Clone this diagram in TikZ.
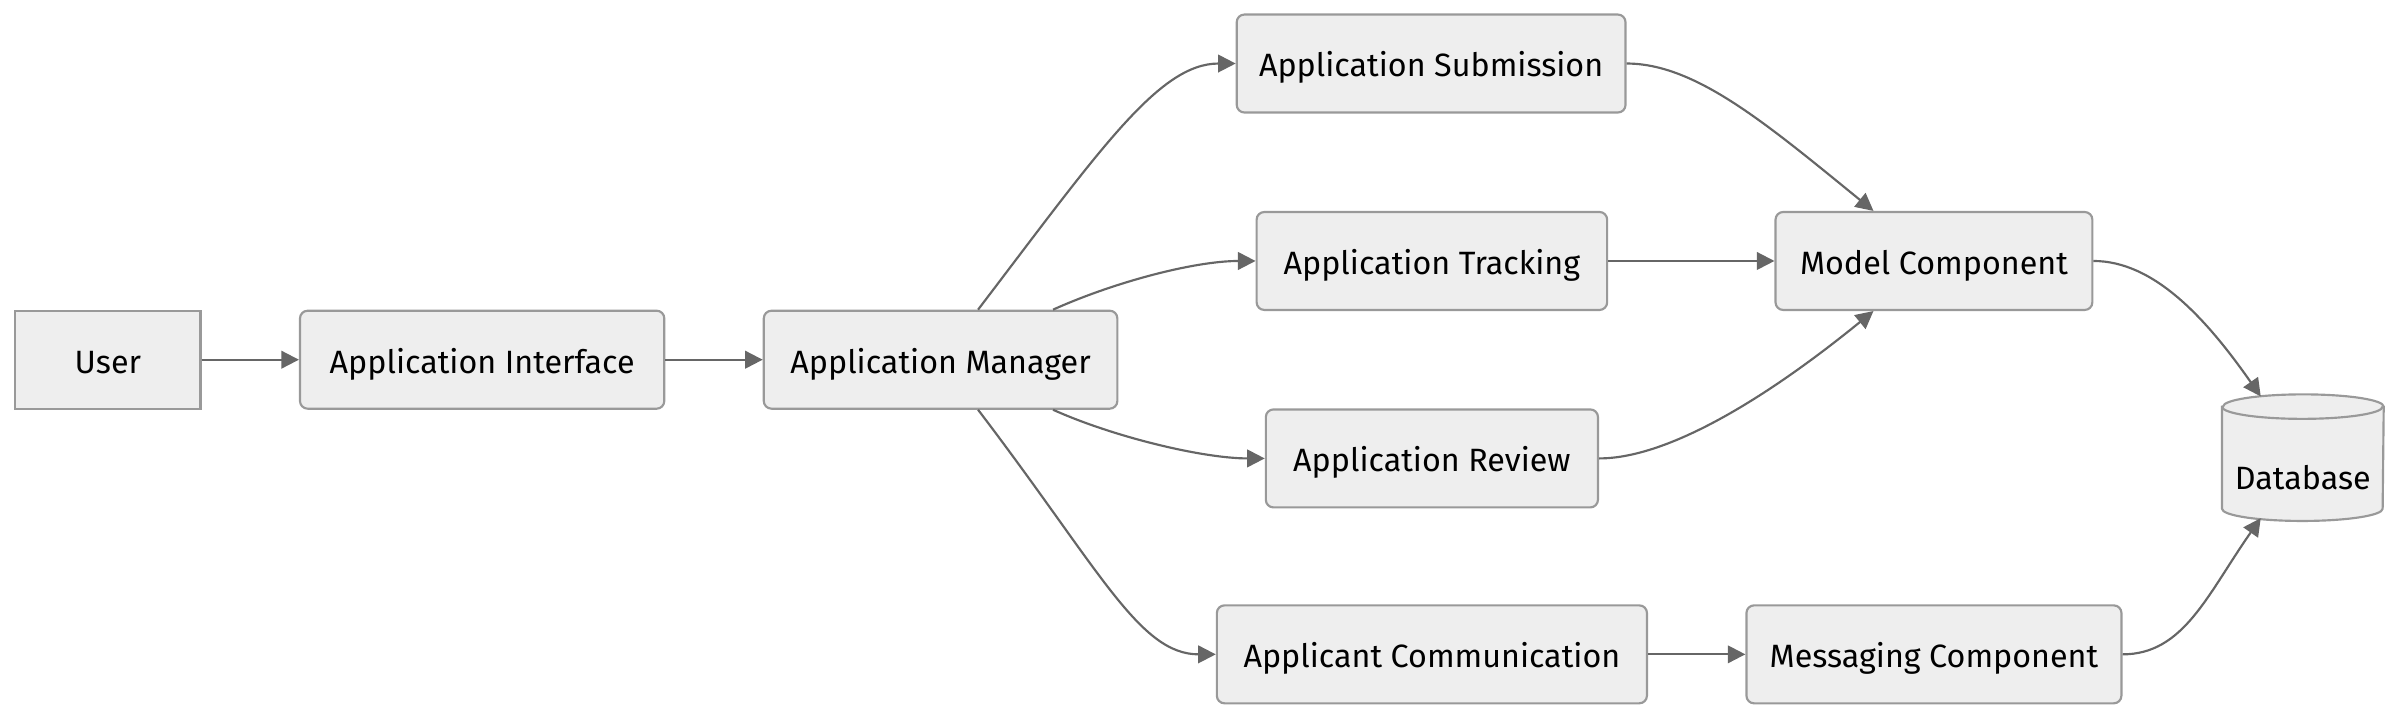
\documentclass[tikz,border=0pt]{standalone}
\usepackage{fontspec}
\setmainfont{Fira Sans}
\usetikzlibrary{arrows.meta}

\definecolor{boxfill}{HTML}{EEEEEE}
\definecolor{boxline}{HTML}{999999}
\definecolor{flowline}{HTML}{666666}

\begin{document}
\begin{tikzpicture}[x=0.2mm, y=-0.2mm, >={Triangle[length=2.3mm, width=2.3mm]},
    every label text/.style={font=\fontsize{12}{14}\selectfont, text height=3.8mm, text depth=0.3mm},
    every box/.style={draw=boxline, fill=boxfill, line width=0.8pt, rounded corners=1mm,
        minimum height=12.8mm, inner sep=0pt, every label text},
    box user/.style={rounded corners=0pt},
    flow/.style={->, draw=flowline, line width=0.8pt}]

\useasboundingbox (0,0) rectangle (1568,470.4);

\foreach \n/\x/\y/\w/\l in {user/70.5/235/24.2/User,
        ui/315/235/47.6/Application Interface,
        mgr/614.5/235/46.2/Application Manager,
        sub/935/41.5/50.8/Application Submission,
        trk/935.5/170.5/45.8/Application Tracking,
        rev/935.5/299.5/43.4/Application Review,
        com/935.5/427.5/56.2/Applicant Communication,
        mdl/1263.5/170.5/41.4/Model Component,
        msg/1263.5/427.5/49.0/Messaging Component}
    \node [every box/.try, box \n/.try, minimum width=\w mm] (\n) at (\x,\y) {\l};

\node [minimum width=21mm, minimum height=16.4mm, inner sep=0pt] (db) at (1504.5,299) {};
\path [draw=boxline, fill=boxfill, line width=0.8pt]
    ([yshift=-1.6mm]db.north west) -- ([yshift=1.6mm]db.south west)
    arc [start angle=180, end angle=360, x radius=10.5mm, y radius=1.6mm]
    -- ([yshift=-1.6mm]db.north east)
    arc [start angle=0, end angle=180, x radius=10.5mm, y radius=1.6mm] -- cycle;
\draw [draw=boxline, line width=0.8pt] ([yshift=-1.6mm]db.north west)
    arc [start angle=180, end angle=360, x radius=10.5mm, y radius=1.6mm];
\node [every label text, inner sep=0pt] (dbtext) at ([yshift=-2.4mm]db.center) {Database};

\draw [flow] (user) -- (ui);
\draw [flow] (ui) -- (mgr);

\draw [flow] ([xshift=4.9mm]mgr.north) .. controls +(80,-105) and +(-50,0) .. (sub.west);
\draw [flow] ([xshift=14.7mm]mgr.north) .. controls +(40,-18) and +(-40,0) .. (trk.west);
\draw [flow] ([xshift=14.7mm]mgr.south) .. controls +(40,18) and +(-40,0) .. (rev.west);
\draw [flow] ([xshift=4.9mm]mgr.south) .. controls +(80,105) and +(-50,0) .. (com.west);

\draw [flow] (sub.east) .. controls +(45,0) and +(-70,-57) .. ([xshift=-7.9mm]mdl.north);
\draw [flow] (trk) -- (mdl);
\draw [flow] (rev.east) .. controls +(45,0) and +(-70,57) .. ([xshift=-7.9mm]mdl.south);
\draw [flow] (com) -- (msg);

\draw [flow] (mdl.east) .. controls +(40,0) and +(-35,-50) .. ([shift={(-5.5mm,8mm)}]db.center);
\draw [flow] (msg.east) .. controls +(40,0) and +(-35,50) .. ([shift={(-5.5mm,-7.9mm)}]db.center);

\end{tikzpicture}
\end{document}
